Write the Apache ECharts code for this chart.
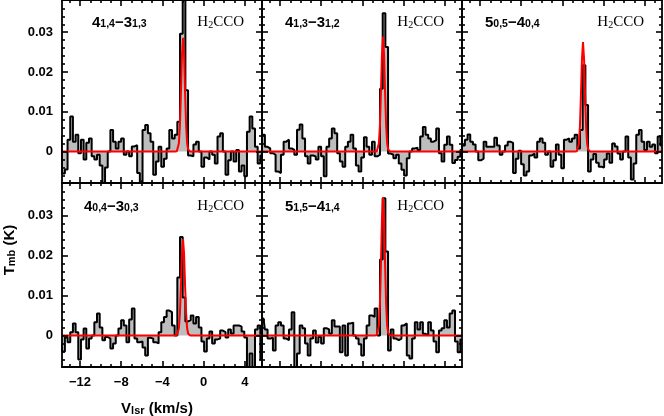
<!DOCTYPE html>
<html>
<head>
<meta charset="utf-8">
<script src="https://cdn.jsdelivr.net/npm/echarts@6/dist/echarts.min.js"></script>
<style>
html, body { margin: 0; padding: 0; background: #fff; }
#chart { width: 664px; height: 416px; }
</style>
</head>
<body>
<div id="chart"></div>
<script>
// channel velocities (km/s), shared by the five spectra
const velocity = [
  -13.86, -13.60, -13.34, -13.08, -12.82, -12.56, -12.30, -12.04, -11.78, -11.52,
  -11.26, -11.00, -10.74, -10.48, -10.22, -9.96, -9.70, -9.44, -9.18, -8.92,
  -8.66, -8.40, -8.14, -7.88, -7.62, -7.36, -7.10, -6.84, -6.58, -6.32,
  -6.06, -5.80, -5.54, -5.28, -5.02, -4.76, -4.50, -4.24, -3.98, -3.72,
  -3.46, -3.20, -2.94, -2.68, -2.42, -2.16, -1.90, -1.64, -1.38, -1.12,
  -0.86, -0.60, -0.34, -0.08, 0.18, 0.44, 0.70, 0.96, 1.22, 1.48,
  1.74, 2.00, 2.26, 2.52, 2.78, 3.04, 3.30, 3.56, 3.82, 4.08,
  4.34, 4.60, 4.86, 5.12, 5.38, 5.64
];

// Tmb (K) per channel
const spec1 = [
  0.004, -0.0055, -0.0045, 0.003, 0.0088, 0.0025, 0.0042, -0.0004, 0.003, -0.002,
  0.0022, 0.0033, -0.0012, -0.002, -0.0008, -0.0035, -0.008, -0.004, 0.0, 0.0054,
  0.0025, 0.0008, 0.0025, 0.0033, -0.0008, 0.0, -0.0012, 0.0013, 0.0016, -0.0054,
  -0.008, 0.0054, 0.0067, 0.0046, 0.0025, -0.0058, -0.0025, 0.0012, -0.0038, -0.0018,
  0.0008, 0.0054, 0.0033, 0.0042, 0.0075, 0.0296, 0.041, 0.0154, -0.001, -0.0012,
  0.0018, 0.0025, 0.0, -0.0038, -0.0015, -0.002, 0.0, -0.0008, -0.003, 0.0038,
  0.0046, 0.0, -0.0058, -0.0022, 0.0, -0.0025, 0.0004, -0.005, -0.0035, -0.0062,
  0.005, 0.0088, 0.0058, 0.0012, -0.003, -0.001
];
const spec2 = [
  0.001, 0.0042, 0.0012, 0.0008, -0.0004, -0.0008, -0.005, -0.0054, -0.0008, 0.0025,
  0.003, 0.0008, 0.0004, -0.0008, 0.0055, 0.0068, 0.0033, -0.0012, -0.003, -0.001,
  -0.0012, -0.002, 0.0012, -0.0012, -0.0062, 0.0012, 0.0033, 0.0058, 0.0046, -0.0004,
  -0.0025, -0.0038, 0.0012, 0.0025, 0.0042, 0.0008, -0.0035, -0.005, -0.0015, 0.0036,
  0.0012, -0.0008, 0.0025, -0.0012, -0.0008, 0.0158, 0.0348, 0.0263, -0.0005, -0.0008,
  -0.0017, -0.0008, -0.003, -0.0046, -0.006, -0.0017, 0.0, 0.0008, 0.001, 0.0004,
  0.0038, 0.0062, 0.0042, 0.0033, 0.0025, 0.0029, 0.0058, -0.0004, -0.0025, 0.0017,
  0.0038, 0.0017, -0.0029, -0.0021, -0.0013, 0.0004
];
const spec3 = [
  0.0008, 0.0015, 0.003, 0.0043, 0.0025, 0.0018, 0.0, -0.0022, -0.0018, 0.0025,
  0.0012, 0.0012, 0.0012, 0.0035, 0.0015, -0.0008, 0.0, 0.0015, 0.0025, 0.0022,
  -0.0054, -0.0018, 0.0002, -0.0032, -0.006, -0.005, -0.001, -0.0005, -0.0015, 0.0025,
  0.0033, 0.0022, -0.0008, 0.0, -0.0038, -0.0022, 0.0018, -0.0008, -0.0042, 0.003,
  0.0033, 0.0025, 0.0033, 0.0042, 0.0008, 0.0054, 0.0217, 0.0117, -0.005, -0.002,
  -0.0006, -0.0028, -0.0038, -0.004, -0.002, -0.0005, -0.0028, 0.002, 0.0013, -0.0005,
  -0.002, 0.0, 0.0038, -0.0015, -0.007, -0.003, 0.0042, 0.0054, 0.0025, 0.0004,
  0.0025, 0.0012, 0.0018, -0.0004, 0.0038, 0.0015
];
const spec4 = [
  -0.002, -0.004, -0.0005, -0.0017, 0.0008, 0.003, 0.0008, -0.006, -0.001, 0.0017,
  -0.0033, -0.0008, 0.0, 0.0033, 0.0055, 0.002, -0.0012, -0.0004, -0.0008, -0.0033,
  -0.002, 0.0, 0.0017, 0.0038, 0.0025, -0.0017, 0.004, 0.0067, -0.0008, -0.0017,
  -0.0015, -0.003, -0.005, -0.0006, -0.0008, -0.0017, -0.002, 0.0008, 0.0033, 0.0046,
  0.0062, 0.0058, 0.0025, 0.0, 0.0145, 0.0246, 0.0095, 0.0035, 0.0038, 0.005,
  0.003, 0.0046, 0.002, -0.0015, -0.004, -0.0008, 0.001, -0.002, -0.001, -0.0008,
  0.0012, 0.0008, -0.0005, 0.0015, 0.0005, 0.0025, 0.0025, 0.0022, 0.001, -0.0005,
  -0.0085, -0.0045, -0.0085, 0.0015, 0.0025, -0.006
];
const spec5 = [
  0.0042, 0.0042, 0.0015, -0.0008, -0.0006, -0.0038, 0.0025, 0.0033, 0.0025, -0.0008,
  -0.0012, 0.0015, 0.0058, -0.0085, -0.0045, 0.0025, 0.0018, -0.002, -0.005, -0.0008,
  0.0012, -0.0018, -0.0004, -0.002, 0.0018, 0.0015, 0.0005, 0.0038, 0.0022, 0.0022,
  -0.0042, 0.0025, -0.005, 0.003, 0.0032, 0.0, -0.0008, -0.0022, -0.005, -0.0008,
  0.0025, 0.005, 0.0046, 0.0067, 0.0, 0.019, 0.0343, 0.021, -0.0038, 0.0015,
  -0.0008, -0.0012, -0.0008, 0.0025, 0.003, -0.005, -0.0058, -0.0008, 0.0033, 0.0015,
  0.0033, 0.0004, 0.0, 0.0033, 0.0012, -0.0015, -0.0042, 0.0012, 0.0018, 0.0038,
  0.002, 0.0055, 0.0062, -0.0015, -0.0042, -0.001
];

const fitVelocity = [-13.75, -2.8, -2.7, -2.6, -2.5, -2.4, -2.3, -2.2, -2.1, -2.0,
  -1.9, -1.8, -1.7, -1.6, -1.5, -1.4, -1.3, -1.2, 5.7];
const fit1 = [0, 0, 0, 0.0001, 0.0005, 0.0021, 0.0066, 0.0149, 0.0243, 0.0286,
  0.0243, 0.0149, 0.0066, 0.0021, 0.0005, 0.0001, 0, 0, 0];
const fit2 = [0, 0, 0, 0.0001, 0.0005, 0.0021, 0.0066, 0.015, 0.0245, 0.0289,
  0.0245, 0.015, 0.0066, 0.0021, 0.0005, 0.0001, 0, 0, 0];
const fit3 = [0, 0, 0, 0.0001, 0.0005, 0.002, 0.0063, 0.0143, 0.0233, 0.0275,
  0.0233, 0.0143, 0.0063, 0.002, 0.0005, 0.0001, 0, 0, 0];
const fit4 = [0, 0, 0, 0.0001, 0.0004, 0.0018, 0.0055, 0.0125, 0.0205, 0.0241,
  0.0205, 0.0125, 0.0055, 0.0018, 0.0004, 0.0001, 0, 0, 0];
const fit5 = [0, 0, 0, 0.0001, 0.0006, 0.0025, 0.008, 0.018, 0.0294, 0.0346,
  0.0294, 0.018, 0.008, 0.0025, 0.0006, 0.0001, 0, 0, 0];

// tick values
const xMajor = [-12, -8, -4, 0, 4];
const xMinor = [-13, -11, -10, -9, -7, -6, -5, -3, -2, -1, 1, 2, 3, 5];
const yMajor = [0, 0.01, 0.02, 0.03];
const yMinor = [-0.006, -0.004, -0.002, 0.002, 0.004, 0.006, 0.008, 0.012, 0.014, 0.016,
  0.018, 0.022, 0.024, 0.026, 0.028, 0.032, 0.034, 0.036];

// transition labels
const upperLevel = ['4', '4', '5', '4', '5'];
const upperSub = ['1,4', '1,3', '0,5', '0,4', '1,5'];
const lowerLevel = ['3', '3', '4', '3', '4'];
const lowerSub = ['1,3', '1,2', '0,4', '0,3', '1,4'];

const spectra = [spec1, spec2, spec3, spec4, spec5];
const fits = [fit1, fit2, fit3, fit4, fit5];

const xMin = -13.75, xMax = 5.67, yMin = -0.0079, yMax = 0.0381;
const W = 200, H = 184;
const panels = [
  { left: 62, top: -1, xLab: false, yLab: true, labX: 30 },
  { left: 262, top: -1, xLab: false, yLab: false, labX: 23 },
  { left: 462, top: -1, xLab: false, yLab: false, labX: 23 },
  { left: 62, top: 183, xLab: true, yLab: true, labX: 22 },
  { left: 262, top: 183, xLab: false, yLab: false, labX: 23 }
];

const sans = 'Liberation Sans';
const serif = 'Liberation Serif';
const black = '#000';

function richStyle(font, weight, big, small, drop) {
  return {
    n: { fontFamily: font, fontWeight: weight, fontSize: big, lineHeight: big,
         verticalAlign: 'top', color: black },
    s: { fontFamily: font, fontWeight: weight, fontSize: small, lineHeight: small,
         verticalAlign: 'bottom', padding: [drop, 0, 0, 0], color: black }
  };
}

function xAxisPair(g, pos, labels) {
  const base = {
    type: 'value', gridIndex: g, position: pos, min: xMin, max: xMax, z: 5,
    splitLine: { show: false }
  };
  return [
    Object.assign({}, base, {
      axisLine: { show: true, onZero: false, lineStyle: { color: black, width: 1.8 } },
      axisTick: { show: true, inside: true, length: 6, customValues: xMajor,
                  lineStyle: { color: black, width: 1.6 } },
      axisLabel: { show: labels, customValues: xMajor, margin: 9, fontSize: 13,
                   fontWeight: 'bold', fontFamily: sans, color: black,
                   formatter: v => String(v).replace('-', '\u2212') }
    }),
    Object.assign({}, base, {
      axisLine: { show: false, onZero: false },
      axisTick: { show: true, inside: true, length: 3, customValues: xMinor,
                  lineStyle: { color: black, width: 1.6 } },
      axisLabel: { show: false }
    })
  ];
}

function yAxisPair(g, pos, labels) {
  const base = {
    type: 'value', gridIndex: g, position: pos, min: yMin, max: yMax, z: 5,
    splitLine: { show: false }
  };
  return [
    Object.assign({}, base, {
      axisLine: { show: true, onZero: false, lineStyle: { color: black, width: 1.8 } },
      axisTick: { show: true, inside: true, length: 6, customValues: yMajor,
                  lineStyle: { color: black, width: 1.6 } },
      axisLabel: { show: labels, customValues: yMajor, margin: 9, fontSize: 13,
                   fontWeight: 'bold', fontFamily: sans, color: black }
    }),
    Object.assign({}, base, {
      axisLine: { show: false, onZero: false },
      axisTick: { show: true, inside: true, length: 3, customValues: yMinor,
                  lineStyle: { color: black, width: 1.6 } },
      axisLabel: { show: false }
    })
  ];
}

const grid = [], xAxis = [], yAxis = [], series = [], graphic = [];

panels.forEach((p, g) => {
  grid.push({ left: p.left, top: p.top, width: W, height: H, containLabel: false });
  xAxis.push(...xAxisPair(g, 'bottom', p.xLab), ...xAxisPair(g, 'top', false));
  yAxis.push(...yAxisPair(g, 'left', p.yLab), ...yAxisPair(g, 'right', false));

  series.push({
    type: 'line', xAxisIndex: 4 * g, yAxisIndex: 4 * g,
    data: velocity.map((v, i) => [v, spectra[g][i]]),
    step: 'middle', symbol: 'none', clip: true, z: 2,
    lineStyle: { color: '#000', width: 2 },
    areaStyle: { color: '#bdbdbd', opacity: 1 }
  });
  series.push({
    type: 'line', xAxisIndex: 4 * g, yAxisIndex: 4 * g,
    data: fitVelocity.map((v, i) => [v, fits[g][i]]),
    symbol: 'none', clip: true, z: 3,
    lineStyle: { color: '#ff0000', width: 2 }
  });

  graphic.push({
    type: 'text', x: p.left + p.labX, y: p.top + 16, z: 10,
    style: {
      text: '{n|' + upperLevel[g] + '}{s|' + upperSub[g] + '}{n|\u2212' + lowerLevel[g] + '}{s|' + lowerSub[g] + '}',
      rich: richStyle(sans, 'bold', 15, 10.5, 7), align: 'left', verticalAlign: 'top'
    }
  });
  graphic.push({
    type: 'text', x: p.left + W - 18, y: p.top + 16, z: 10,
    style: {
      text: '{n|H}{s|2}{n|CCO}',
      rich: richStyle(serif, 'normal', 15, 10, 6), align: 'right', verticalAlign: 'top'
    }
  });
});

graphic.push({
  type: 'text', x: 10, y: 250, rotation: Math.PI / 2, z: 10,
  style: {
    text: '{n|T}{s|mb}{n| (K)}', rich: richStyle(sans, 'bold', 15, 11, 6),
    align: 'center', verticalAlign: 'middle'
  }
});
graphic.push({
  type: 'text', x: 157, y: 409, z: 10,
  style: {
    text: '{n|V}{s|lsr}{n| (km/s)}', rich: richStyle(sans, 'bold', 15, 11, 6),
    align: 'center', verticalAlign: 'middle'
  }
});

const chart = echarts.init(document.getElementById('chart'), null, { renderer: 'canvas' });
chart.setOption({
  animation: false,
  backgroundColor: '#fff',
  grid: grid,
  xAxis: xAxis,
  yAxis: yAxis,
  series: series,
  graphic: graphic
});
</script>
</body>
</html>
